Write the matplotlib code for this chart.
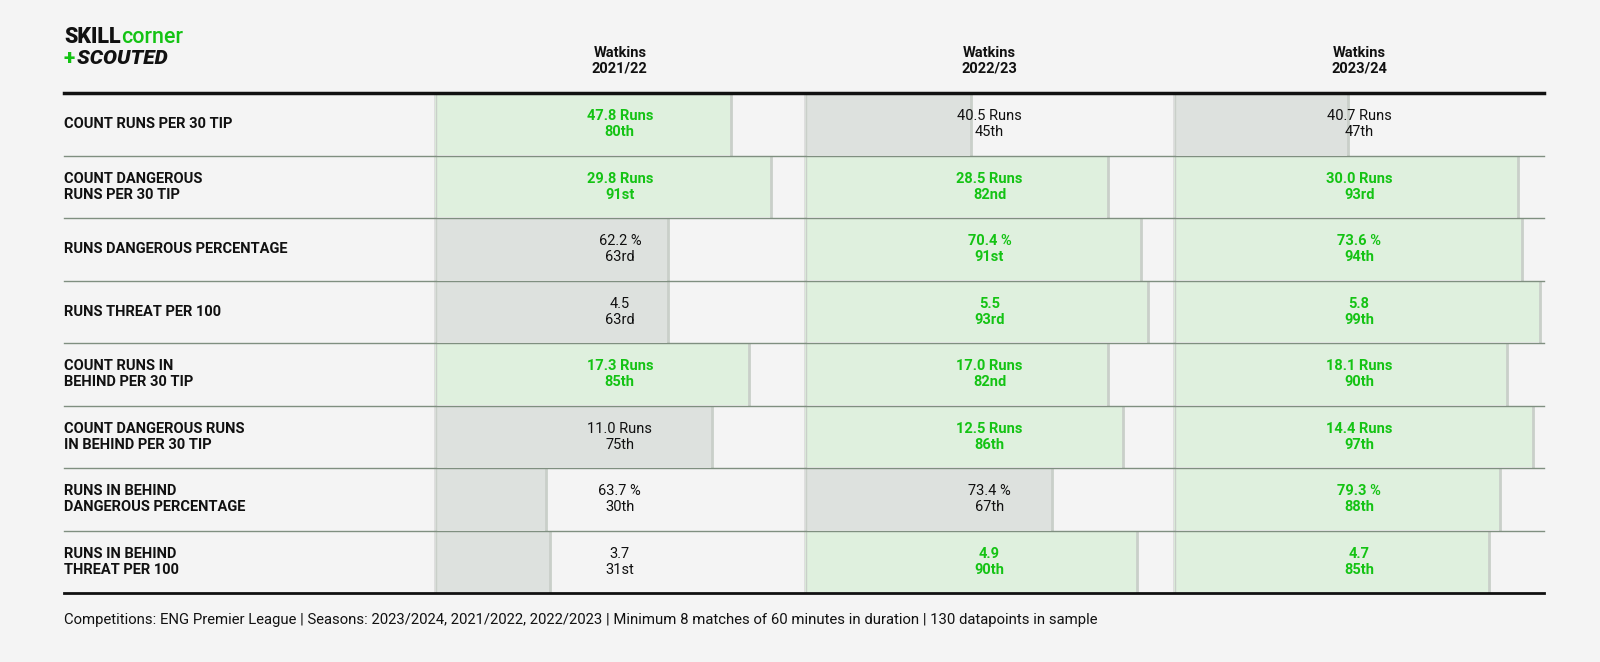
import matplotlib.pyplot as plt
from matplotlib.patches import Rectangle

plt.rcParams['font.family'] = ['Roboto', 'DejaVu Sans']

# data
seasons = ['2021/22', '2022/23', '2023/24']
player = 'Watkins'
metrics = ['COUNT RUNS PER 30 TIP',
           'COUNT DANGEROUS\nRUNS PER 30 TIP',
           'RUNS DANGEROUS PERCENTAGE',
           'RUNS THREAT PER 100',
           'COUNT RUNS IN\nBEHIND PER 30 TIP',
           'COUNT DANGEROUS RUNS\nIN BEHIND PER 30 TIP',
           'RUNS IN BEHIND\nDANGEROUS PERCENTAGE',
           'RUNS IN BEHIND\nTHREAT PER 100']
values_2122 = ['47.8 Runs', '29.8 Runs', '62.2 %', '4.5', '17.3 Runs', '11.0 Runs', '63.7 %', '3.7']
values_2223 = ['40.5 Runs', '28.5 Runs', '70.4 %', '5.5', '17.0 Runs', '12.5 Runs', '73.4 %', '4.9']
values_2324 = ['40.7 Runs', '30.0 Runs', '73.6 %', '5.8', '18.1 Runs', '14.4 Runs', '79.3 %', '4.7']
pct_2122 = [80, 91, 63, 63, 85, 75, 30, 31]
pct_2223 = [45, 82, 91, 93, 82, 86, 67, 90]
pct_2324 = [47, 93, 94, 99, 90, 97, 88, 85]
footer = ('Competitions: ENG Premier League | Seasons: 2023/2024, 2021/2022, 2022/2023 | '
          'Minimum 8 matches of 60 minutes in duration | 130 datapoints in sample')

values = [values_2122, values_2223, values_2324]
pcts = [pct_2122, pct_2223, pct_2324]


def ordinal(n):
    if 10 <= n % 100 <= 20:
        suf = 'th'
    else:
        suf = {1: 'st', 2: 'nd', 3: 'rd'}.get(n % 10, 'th')
    return f'{n}{suf}'


# styling / layout (figure pixels)
bg = '#f4f4f4'
green = '#14c314'
green_fill = '#dff0de'
grey_fill = '#dde1de'
bar_edge = '#c9cfc9'
sep_color = '#7f8f80'
ink = '#111111'
left, right = 64, 1544
col_x0 = 435
col_w = (right - col_x0) / 3
top, row_h = 93, 62.5
threshold = 80
fs = 10.5

fig = plt.figure(figsize=(16, 6.62), dpi=100, facecolor=bg)
ax = fig.add_axes([0, 0, 1, 1])
ax.set_xlim(0, 1600)
ax.set_ylim(662, 0)
ax.axis('off')

n = len(metrics)
for i, label in enumerate(metrics):
    y0 = top + i * row_h
    yc = y0 + row_h / 2
    ax.text(left, yc, label, ha='left', va='center', fontsize=fs,
            fontweight='bold', color=ink, linespacing=1.15)
    for j in range(3):
        x0 = col_x0 + j * col_w
        p = pcts[j][i]
        good = p >= threshold
        xe = x0 + col_w * p / 100
        ax.plot([x0, x0], [y0 + 1, y0 + row_h - 1], color='#dcdcdc', lw=2, zorder=1)
        ax.add_patch(Rectangle((x0, y0 + 1), col_w * p / 100, row_h - 2,
                               facecolor=green_fill if good else grey_fill,
                               edgecolor='none', zorder=2))
        ax.plot([xe, xe], [y0 + 1, y0 + row_h - 1], color=bar_edge, lw=2, zorder=3)
        ax.plot([x0 + 1, x0 + 1], [y0 + 1, y0 + row_h - 1], color=bar_edge, lw=1, zorder=3)
        ax.text(x0 + col_w / 2, yc, f'{values[j][i]}\n{ordinal(p)}', ha='center', va='center',
                fontsize=fs, color=green if good else ink,
                fontweight='bold' if good else 'normal', linespacing=1.15, zorder=4)
    if i > 0:
        ax.plot([left, right], [y0, y0], color=sep_color, lw=1, zorder=5)

ax.plot([left, right], [top, top], color=ink, lw=2.5, zorder=6)
ax.plot([left, right], [top + n * row_h, top + n * row_h], color=ink, lw=2, zorder=6)

# column headers
for j, s in enumerate(seasons):
    ax.text(col_x0 + j * col_w + col_w / 2, 61, f'{player}\n{s}', ha='center', va='center',
            fontsize=fs, fontweight='bold', color=ink, linespacing=1.15)

# logo
t1 = ax.text(left, 43, 'SKILL', ha='left', va='baseline', fontsize=15.5,
             fontweight='heavy', color=ink)
ax.annotate('corner', xy=(1, 0), xycoords=t1, ha='left', va='bottom', fontsize=15.5,
            fontweight='medium', color=green)
t2 = ax.text(left, 64, '+', ha='left', va='baseline', fontsize=15,
             fontweight='heavy', color=green)
ax.annotate(' SCOUTED', xy=(1, 0), xycoords=t2, xytext=(-2, 0), textcoords='offset points',
            ha='left', va='bottom', fontsize=15, fontweight='heavy', fontstyle='italic',
            color=ink)

# footer
ax.text(left, 620, footer, ha='left', va='center', fontsize=10.7, color=ink)

fig.savefig('out.png', dpi=100, facecolor=bg)
